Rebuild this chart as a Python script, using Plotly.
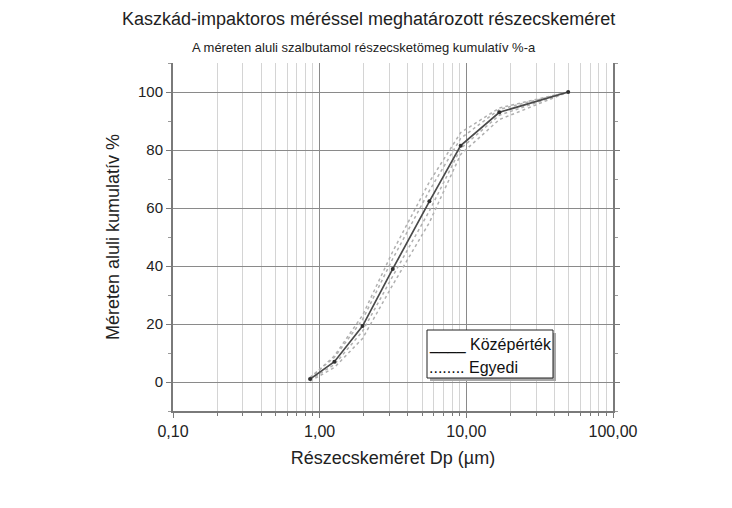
import plotly.graph_objects as go

# Data
size_um = [0.86, 1.26, 1.96, 3.15, 5.6, 9.15, 16.8, 49.5]
mean_pct = [1.0, 7.0, 19.3, 39.0, 62.3, 81.5, 93.0, 100.0]
indiv_a = [0.3, 5.0, 15.0, 33.5, 55.0, 78.5, 90.5, 100.0]
indiv_b = [1.3, 9.0, 23.0, 45.0, 69.0, 86.0, 94.5, 100.0]
indiv_c = [0.8, 6.0, 17.5, 36.5, 59.0, 80.5, 92.0, 100.0]
indiv_d = [1.6, 8.5, 21.5, 42.5, 66.0, 84.0, 94.0, 100.0]

x_tickvals = [0.1, 1, 10, 100]
x_ticktext = ["0,10", "1,00", "10,00", "100,00"]
x_minor = [m * d for d in (0.1, 1, 10) for m in range(2, 10)]
y_tickvals = [0, 20, 40, 60, 80, 100]
y_minor = [-10, 10, 30, 50, 70, 90, 110]

title = "Kaszkád-impaktoros méréssel meghatározott részecskeméret"
subtitle = "A méreten aluli szalbutamol részecsketömeg kumulatív %-a"
legend_mean = "____ Középérték"
legend_indiv = "........ Egyedi"

FONT = "Liberation Sans, Arial, sans-serif"

fig = go.Figure()
for ys in (indiv_a, indiv_b, indiv_c, indiv_d):
    fig.add_trace(go.Scatter(x=size_um, y=ys, mode="lines",
                             line=dict(color="#b0b0b0", width=1.5, dash="dot"),
                             showlegend=False, hoverinfo="skip"))
fig.add_trace(go.Scatter(x=size_um, y=mean_pct, mode="lines+markers",
                         line=dict(color="#4a4a4a", width=1.7),
                         marker=dict(color="#303030", size=4),
                         showlegend=False))

L, R, T, B = 173, 613, 63, 411
W, H = 732, 508

def px(x):
    return (x - L) / (R - L)

def py(y):
    return (B - y) / (B - T)

# legend box with shadow
fig.add_shape(type="rect", xref="paper", yref="paper",
              x0=px(430), x1=px(556), y0=py(381), y1=py(333),
              fillcolor="#a8a8a8", line=dict(width=0), layer="above")
fig.add_shape(type="rect", xref="paper", yref="paper",
              x0=px(427), x1=px(553), y0=py(378), y1=py(330),
              fillcolor="white", line=dict(color="#222222", width=1), layer="above")
fig.add_annotation(xref="paper", yref="paper", x=px(427), y=py(345),
                   xanchor="left", yanchor="middle", text=legend_mean, showarrow=False,
                   font=dict(family=FONT, size=16, color="#111111"))
fig.add_annotation(xref="paper", yref="paper", x=px(427), y=py(367),
                   xanchor="left", yanchor="middle", text=legend_indiv, showarrow=False,
                   font=dict(family=FONT, size=16, color="#111111"))

fig.add_annotation(xref="paper", yref="paper", x=px(368), y=py(19),
                   xanchor="center", yanchor="middle", text=title, showarrow=False,
                   font=dict(family=FONT, size=18, color="#222222"))
fig.add_annotation(xref="paper", yref="paper", x=px(364), y=py(47),
                   xanchor="center", yanchor="middle", text=subtitle, showarrow=False,
                   font=dict(family=FONT, size=13, color="#222222"))

fig.update_layout(
    width=W, height=H,
    margin=dict(l=L, r=W - R, t=T, b=H - B),
    paper_bgcolor="white", plot_bgcolor="white",
    font=dict(family=FONT, size=15, color="#222222"),
    xaxis=dict(type="log", range=[-1, 2], tickmode="array",
               tickvals=x_tickvals, ticktext=x_ticktext,
               showgrid=True, gridcolor="#8a8a8a", gridwidth=1.2,
               showline=True, linecolor="#7a7a7a", linewidth=2,
               ticks="outside", ticklen=5, tickcolor="#7a7a7a",
               tickfont=dict(size=16),
               minor=dict(tickmode="array", tickvals=x_minor, ticks="outside",
                          ticklen=3, tickcolor="#7a7a7a", showgrid=True,
                          gridcolor="#d4d4d4", gridwidth=1.2),
               zeroline=False,
               title=dict(text="Részecskeméret Dp (µm)", font=dict(size=18), standoff=12)),
    yaxis=dict(range=[-10, 110], tickmode="array", tickvals=y_tickvals,
               showgrid=True, gridcolor="#8a8a8a", gridwidth=1.2,
               showline=True, linecolor="#7a7a7a", linewidth=2, mirror="ticks",
               ticks="outside", ticklen=5, tickcolor="#7a7a7a",
               tickfont=dict(size=15),
               minor=dict(tickmode="array", tickvals=y_minor, ticks="outside",
                          ticklen=3, tickcolor="#9a9a9a", showgrid=False),
               zeroline=False,
               title=dict(text="Méreten aluli kumulatív %", font=dict(size=18), standoff=14)),
)

fig.write_html("out.html", config={"displayModeBar": False},
               post_script="document.body.style.margin='0';document.body.style.overflow='hidden';")
